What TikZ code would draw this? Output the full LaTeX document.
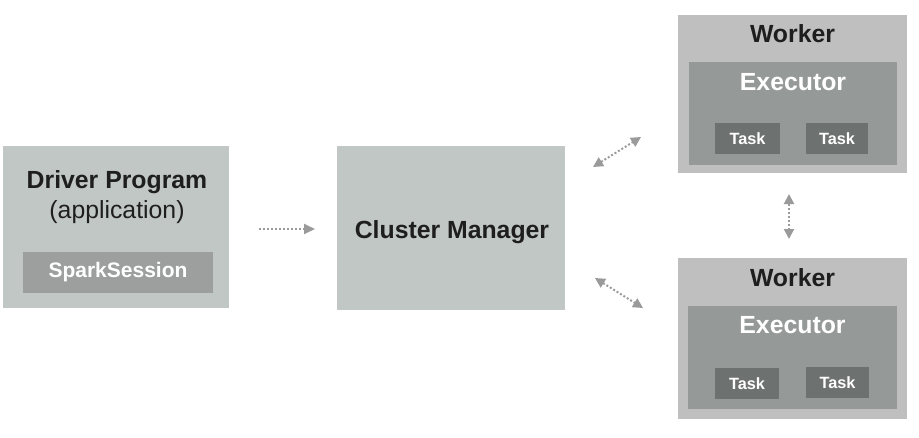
\documentclass[tikz,border=0pt]{standalone}
\usepackage{fontspec}
\setmainfont{Liberation Sans}
\usetikzlibrary{arrows.meta}
\definecolor{boxgreen}{HTML}{C1C7C4}
\definecolor{workergray}{HTML}{BFBFBF}
\definecolor{execgray}{HTML}{959A98}
\definecolor{taskgray}{HTML}{6D716F}
\definecolor{sparkgray}{HTML}{9C9F9E}
\definecolor{arrowgray}{HTML}{9A9A9A}
\definecolor{darktext}{HTML}{1E1E1E}
\tikzset{
  box/.style={draw=none, rectangle, inner sep=0pt},
  bigtxt/.style={font=\fontsize{24.8}{28}\selectfont\bfseries, text=darktext, inner sep=0pt},
  whitetxt/.style={font=\fontsize{24.8}{28}\selectfont\bfseries, text=white, inner sep=0pt},
  tasktxt/.style={font=\fontsize{16.3}{18}\selectfont\bfseries, text=white},
  conn/.style={draw=arrowgray, line width=2pt, dash pattern=on 2pt off 2pt,
    {Triangle[length=10pt,width=10pt,fill=arrowgray]}-{Triangle[length=10pt,width=10pt,fill=arrowgray]}},
  conn1/.style={draw=arrowgray, line width=2pt, dash pattern=on 2pt off 2pt,
    -{Triangle[length=11pt,width=10pt,fill=arrowgray]}}
}
\begin{document}
\begin{tikzpicture}[x=1pt,y=-1pt]
\useasboundingbox (0,0) rectangle (919,437);
% Driver
\node[box, fill=boxgreen, minimum width=226pt, minimum height=162pt] (driver) at (116,227) {};
\node[bigtxt] (drivert) at (117,182) {Driver Program};
\node[font=\fontsize{24.8}{28}\selectfont, text=darktext, inner sep=0pt] (appt) at (117,212) {(application)};
\node[box, fill=sparkgray, minimum width=190pt, minimum height=41pt, text=white,
  font=\fontsize{21}{24}\selectfont\bfseries] (spark) at (118,272.5) {SparkSession};
% Cluster manager
\node[box, fill=boxgreen, minimum width=228pt, minimum height=164pt] (cluster) at (451,228) {};
\node[bigtxt] (clustert) at (452,232) {Cluster Manager};
% Worker 1
\node[box, fill=workergray, minimum width=229pt, minimum height=158pt] (w1) at (792.5,94) {};
\node[bigtxt] (w1t) at (792.5,33.5) {Worker};
\node[box, fill=execgray, minimum width=208pt, minimum height=103pt] (e1) at (793,113.5) {};
\node[whitetxt] (e1t) at (793,82.5) {Executor};
\node[box, fill=taskgray, minimum width=65pt, minimum height=31pt, tasktxt] (t11) at (747.5,138.5) {Task};
\node[box, fill=taskgray, minimum width=62pt, minimum height=31pt, tasktxt] (t12) at (837,138.5) {Task};
% Worker 2
\node[box, fill=workergray, minimum width=229pt, minimum height=161pt] (w2) at (792.5,338.5) {};
\node[bigtxt] (w2t) at (792.5,278) {Worker};
\node[box, fill=execgray, minimum width=209pt, minimum height=103pt] (e2) at (792.5,357.5) {};
\node[whitetxt] (e2t) at (792.5,325) {Executor};
\node[box, fill=taskgray, minimum width=64pt, minimum height=31pt, tasktxt] (t21) at (747,383.5) {Task};
\node[box, fill=taskgray, minimum width=63pt, minimum height=31pt, tasktxt] (t22) at (837.5,382.5) {Task};
% connector endpoints
\coordinate (a1) at (259,229);
\coordinate (a2) at (315,229);
\coordinate (b1) at (593,167);
\coordinate (b2) at (641,137);
\coordinate (c1) at (595,278);
\coordinate (c2) at (643,308);
\coordinate (d1) at (789,194);
\coordinate (d2) at (789,239);
\draw[conn1] (a1) -- (a2);
\draw[conn] (b1) -- (b2);
\draw[conn] (c1) -- (c2);
\draw[conn] (d1) -- (d2);
\end{tikzpicture}
\end{document}
